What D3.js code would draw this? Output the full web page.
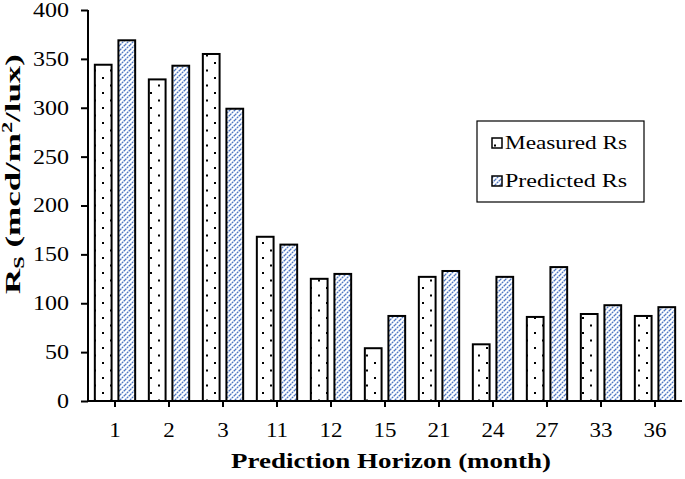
<!DOCTYPE html>
<html>
<head>
	<meta charset="utf-8">
	<script src="https://cdn.jsdelivr.net/npm/d3@7"></script>
	<style>
		body { margin: 0; background: #fff; }
		text { font-family: "Liberation Serif", "Times New Roman", serif; fill: #000; }
		.tick text { font-size: 20px; }
		.axis-title { font-weight: bold; }
		.legend text { font-size: 19px; }
	</style>
</head>
<body>
	<svg></svg>
	<script>
		var categories = ["1", "2", "3", "11", "12", "15", "21", "24", "27", "33", "36"];
		var measured = [344, 329, 355, 168, 125, 54, 127, 58, 86, 89, 87];
		var predicted = [369, 343, 299, 160, 130, 87, 133, 127, 137, 98, 96];
		var yTicks = [0, 50, 100, 150, 200, 250, 300, 350, 400];
		var seriesNames = ["Measured Rs", "Predicted Rs"];

		var width = 685, height = 479;
		var margins = { left: 88, right: 3, top: 10, bottom: 78 };

		var svg = d3.select("svg")
			.attr("width", width)
			.attr("height", height);

		// widen text horizontally, the reference looks stretched
		function stretch(sel, k) {
			sel.each(function () {
				var w = this.getComputedTextLength();
				d3.select(this)
					.attr("textLength", w * k)
					.attr("lengthAdjust", "spacingAndGlyphs");
			});
		}

		// patterns for the two series
		var defs = svg.append("defs");
		var dots = defs.append("pattern")
			.attr("id", "dots")
			.attr("patternUnits", "userSpaceOnUse")
			.attr("width", 16)
			.attr("height", 15);
		dots.append("rect").attr("width", 16).attr("height", 15).attr("fill", "#fff");
		dots.append("rect").attr("x", 6).attr("y", 2).attr("width", 2).attr("height", 2).attr("fill", "#000");
		dots.append("rect").attr("x", 14).attr("y", 9.5).attr("width", 2).attr("height", 2).attr("fill", "#000");

		var hatch = defs.append("pattern")
			.attr("id", "hatch")
			.attr("patternUnits", "userSpaceOnUse")
			.attr("width", 5)
			.attr("height", 5);
		hatch.append("rect").attr("width", 5).attr("height", 5).attr("fill", "#fff");
		hatch.append("path")
			.attr("d", "M-1,1 l2,-2 M0,5 l5,-5 M4,6 l2,-2")
			.attr("stroke", "#4f78c4")
			.attr("stroke-width", 1.3)
			.attr("stroke-dasharray", "2,0.6");

		var x = d3.scaleBand()
			.domain(categories)
			.range([margins.left, width - margins.right]);

		var x1 = d3.scaleBand()
			.domain([0, 1])
			.range([0, x.bandwidth()])
			.paddingInner(0.29)
			.paddingOuter(0.29);

		var y = d3.scaleLinear()
			.domain([0, 400])
			.range([height - margins.bottom, margins.top]);

		var fills = ["url(#dots)", "url(#hatch)"];
		var series = [measured, predicted];

		series.forEach(function (vals, s) {
			svg.append("g")
				.selectAll("rect")
				.data(vals)
				.enter()
				.append("rect")
				.attr("x", (d, i) => x(categories[i]) + x1(s))
				.attr("y", d => y(d))
				.attr("width", x1.bandwidth())
				.attr("height", d => y(0) - y(d))
				.attr("fill", fills[s])
				.attr("stroke", "#000")
				.attr("stroke-width", 2);
		});

		// axes
		var yAxis = svg.append("g")
			.attr("transform", "translate(" + margins.left + ",0)")
			.call(d3.axisLeft(y).tickValues(yTicks).tickSize(7).tickPadding(12));
		yAxis.select(".domain").attr("stroke-width", 2).attr("d", "M0," + y(0) + "V" + y(400));
		yAxis.selectAll(".tick line").attr("stroke-width", 2);
		stretch(yAxis.selectAll(".tick text"), 1.2);

		var xAxis = svg.append("g")
			.attr("transform", "translate(0," + y(0) + ")")
			.call(d3.axisBottom(x).tickSize(6).tickPadding(16));
		xAxis.select(".domain").attr("stroke-width", 2).attr("d", "M" + margins.left + ",0H" + (width - margins.right));
		xAxis.selectAll(".tick line").attr("stroke-width", 2);
		stretch(xAxis.selectAll(".tick text"), 1.15);

		// axis titles
		svg.append("text")
			.attr("class", "axis-title")
			.attr("x", 391)
			.attr("y", 468)
			.attr("font-size", 22)
			.attr("text-anchor", "middle")
			.attr("textLength", 320)
			.attr("lengthAdjust", "spacingAndGlyphs")
			.text("Prediction Horizon (month)");

		var yt = svg.append("text")
			.attr("class", "axis-title")
			.attr("font-size", 22)
			.attr("text-anchor", "middle");
		yt.append("tspan").text("R");
		yt.append("tspan").attr("dy", 4).attr("font-size", 14).text("S");
		yt.append("tspan").attr("dy", -4).text(" (mcd/m");
		yt.append("tspan").attr("dy", -8).attr("font-size", 14).text("2");
		yt.append("tspan").attr("dy", 8).text("/lux)");
		var ytw = yt.node().getBBox().width;
		yt.attr("transform", "translate(20,174) rotate(-90) scale(" + (240 / ytw) + ",1)");

		// legend
		var legend = svg.append("g").attr("class", "legend");
		legend.append("rect")
			.attr("x", 477).attr("y", 121)
			.attr("width", 167).attr("height", 81)
			.attr("fill", "#fff").attr("stroke", "#000").attr("stroke-width", 1.2);
		seriesNames.forEach(function (name, s) {
			legend.append("rect")
				.attr("x", 492).attr("y", 138 + s * 38)
				.attr("width", 10).attr("height", 10)
				.attr("fill", fills[s]).attr("stroke", "#000").attr("stroke-width", 1.5);
			legend.append("text")
				.attr("x", 505).attr("y", 149 + s * 38)
				.attr("textLength", 122)
				.attr("lengthAdjust", "spacingAndGlyphs")
				.text(name);
		});
	</script>
</body>
</html>
